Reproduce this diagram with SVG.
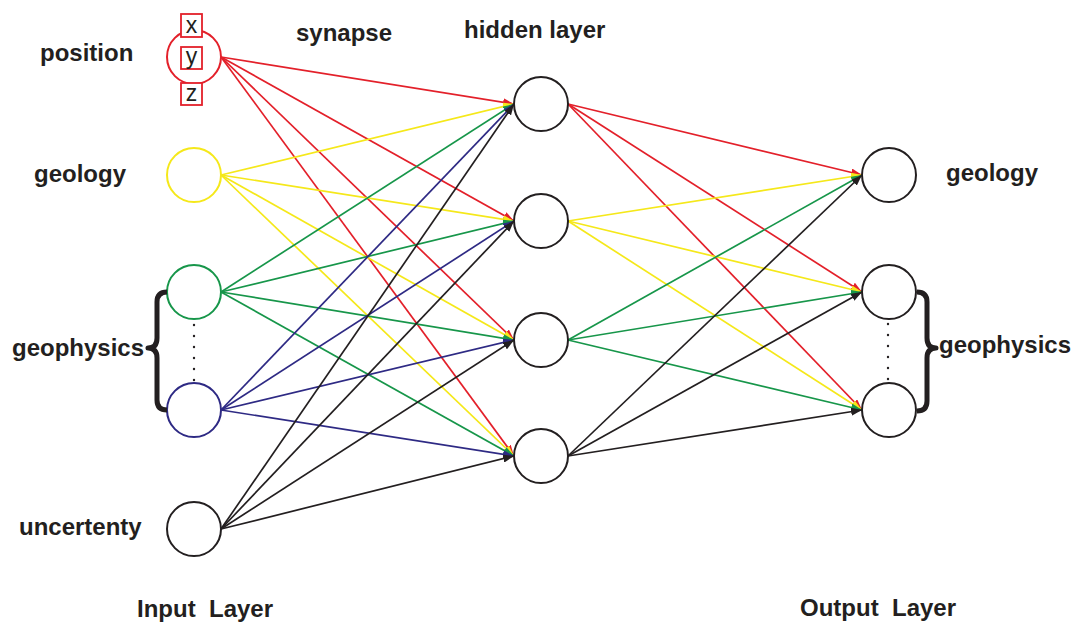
<svg xmlns="http://www.w3.org/2000/svg" width="1080" height="627" viewBox="0 0 1080 627">
<style>
.lbl{font-family:"Liberation Sans",Arial,sans-serif;font-weight:bold;font-size:24px;fill:#231f20;white-space:pre}
.box{font-family:"Liberation Sans",Arial,sans-serif;font-size:23px;fill:#231f20;text-anchor:middle}
.node{fill:#fff;stroke-width:2}
.c{fill:none;stroke-width:1.7}
.r{stroke:#e3202a}.yl{stroke:#f5e81a}.g{stroke:#17964a}.b{stroke:#2e2a84}.k{stroke:#231f20}
.brace{fill:none;stroke:#231f20;stroke-width:5;stroke-linejoin:round;stroke-linecap:butt}
</style>
<defs>
<marker id="ar" markerUnits="userSpaceOnUse" markerWidth="12" markerHeight="8" refX="11" refY="4" orient="auto"><path d="M0,0 L11,4 L0,8 Z" fill="#e3202a"/></marker>
<marker id="ay" markerUnits="userSpaceOnUse" markerWidth="12" markerHeight="8" refX="11" refY="4" orient="auto"><path d="M0,0 L11,4 L0,8 Z" fill="#f5e81a"/></marker>
<marker id="ag" markerUnits="userSpaceOnUse" markerWidth="12" markerHeight="8" refX="11" refY="4" orient="auto"><path d="M0,0 L11,4 L0,8 Z" fill="#17964a"/></marker>
<marker id="ab" markerUnits="userSpaceOnUse" markerWidth="12" markerHeight="8" refX="11" refY="4" orient="auto"><path d="M0,0 L11,4 L0,8 Z" fill="#2e2a84"/></marker>
<marker id="ak" markerUnits="userSpaceOnUse" markerWidth="12" markerHeight="8" refX="11" refY="4" orient="auto"><path d="M0,0 L11,4 L0,8 Z" fill="#231f20"/></marker>
</defs>
<rect width="1080" height="627" fill="#fff"/>
<g id="connectors">
<g class="c r" marker-end="url(#ar)">
<line x1="221" y1="57" x2="514" y2="104"/>
<line x1="221" y1="57" x2="514" y2="221"/>
<line x1="221" y1="57" x2="514" y2="340"/>
<line x1="221" y1="57" x2="514" y2="456"/>
<line x1="568" y1="104" x2="862" y2="175"/>
<line x1="568" y1="104" x2="862" y2="292"/>
<line x1="568" y1="104" x2="862" y2="410"/>
</g>
<g class="c yl" marker-end="url(#ay)">
<line x1="221" y1="175" x2="514" y2="104"/>
<line x1="221" y1="175" x2="514" y2="221"/>
<line x1="221" y1="175" x2="514" y2="340"/>
<line x1="221" y1="175" x2="514" y2="456"/>
<line x1="568" y1="221" x2="862" y2="175"/>
<line x1="568" y1="221" x2="862" y2="292"/>
<line x1="568" y1="221" x2="862" y2="410"/>
</g>
<g class="c g" marker-end="url(#ag)">
<line x1="221" y1="292" x2="514" y2="104"/>
<line x1="221" y1="292" x2="514" y2="221"/>
<line x1="221" y1="292" x2="514" y2="340"/>
<line x1="221" y1="292" x2="514" y2="456"/>
<line x1="568" y1="340" x2="862" y2="175"/>
<line x1="568" y1="340" x2="862" y2="292"/>
<line x1="568" y1="340" x2="862" y2="410"/>
</g>
<g class="c b" marker-end="url(#ab)">
<line x1="221" y1="410" x2="514" y2="104"/>
<line x1="221" y1="410" x2="514" y2="221"/>
<line x1="221" y1="410" x2="514" y2="340"/>
<line x1="221" y1="410" x2="514" y2="456"/>
</g>
<g class="c k" marker-end="url(#ak)">
<line x1="221" y1="529" x2="514" y2="104"/>
<line x1="221" y1="529" x2="514" y2="221"/>
<line x1="221" y1="529" x2="514" y2="340"/>
<line x1="221" y1="529" x2="514" y2="456"/>
<line x1="568" y1="456" x2="862" y2="175"/>
<line x1="568" y1="456" x2="862" y2="292"/>
<line x1="568" y1="456" x2="862" y2="410"/>
</g>
</g>
<g id="in-position">
<circle class="node" cx="194" cy="57" r="27" stroke="#e3202a"/>
<rect x="181" y="14" width="21" height="23" fill="#fff" stroke="#e3202a" stroke-width="1.8"/>
<text class="box" x="191.5" y="33">x</text>
<rect x="181" y="47" width="21" height="22" fill="#fff" stroke="#e3202a" stroke-width="1.8"/>
<text class="box" x="191.5" y="64">y</text>
<rect x="181" y="83" width="21" height="22" fill="#fff" stroke="#e3202a" stroke-width="1.8"/>
<text class="box" x="191.5" y="101">z</text>
<text class="lbl" x="40" y="61">position</text>
</g>
<g id="in-geology">
<circle class="node" cx="194" cy="175" r="27" stroke="#f5e81a"/>
<text class="lbl" x="34" y="182">geology</text>
</g>
<g id="in-geophysics-1"><circle class="node" cx="194" cy="292" r="27" stroke="#17964a"/></g>
<g id="in-geophysics-n"><circle class="node" cx="194" cy="410" r="27" stroke="#2e2a84"/></g>
<g id="in-geophysics-label">
<g fill="#231f20"><circle cx="194" cy="325" r="1.2"/><circle cx="194" cy="336" r="1.2"/><circle cx="194" cy="347" r="1.2"/><circle cx="194" cy="358" r="1.2"/><circle cx="194" cy="369" r="1.2"/><circle cx="194" cy="380" r="1.2"/></g>
<path class="brace" d="M167,292 Q157,292 157,302 L157,338 Q157,348 148,348 Q157,348 157,358 L157,400 Q157,410 167,410"/>
<text class="lbl" x="12" y="356">geophysics</text>
</g>
<g id="in-uncertainty">
<circle class="node" cx="194" cy="529" r="27" stroke="#231f20"/>
<text class="lbl" x="19" y="535">uncertenty</text>
</g>
<g id="hidden-1"><circle class="node" cx="541" cy="104" r="27" stroke="#231f20"/></g>
<g id="hidden-2"><circle class="node" cx="541" cy="221" r="27" stroke="#231f20"/></g>
<g id="hidden-3"><circle class="node" cx="541" cy="340" r="27" stroke="#231f20"/></g>
<g id="hidden-4"><circle class="node" cx="541" cy="456" r="27" stroke="#231f20"/></g>
<g id="out-geology">
<circle class="node" cx="889" cy="175" r="27" stroke="#231f20"/>
<text class="lbl" x="946" y="181">geology</text>
</g>
<g id="out-geophysics-1"><circle class="node" cx="889" cy="292" r="27" stroke="#231f20"/></g>
<g id="out-geophysics-n"><circle class="node" cx="889" cy="410" r="27" stroke="#231f20"/></g>
<g id="out-geophysics-label">
<g fill="#231f20"><circle cx="888" cy="324" r="1.2"/><circle cx="888" cy="335" r="1.2"/><circle cx="888" cy="346" r="1.2"/><circle cx="888" cy="357" r="1.2"/><circle cx="888" cy="368" r="1.2"/><circle cx="888" cy="379" r="1.2"/></g>
<path class="brace" d="M917,292 Q927,292 927,302 L927,338 Q927,348 936,348 Q927,348 927,358 L927,401 Q927,411 917,411"/>
<text class="lbl" x="939" y="353">geophysics</text>
</g>
<g id="titles">
<text class="lbl" x="296" y="41">synapse</text>
<text class="lbl" x="464" y="38">hidden layer</text>
<text class="lbl" x="137" y="617">Input  Layer</text>
<text class="lbl" x="800" y="616">Output  Layer</text>
</g>
</svg>
